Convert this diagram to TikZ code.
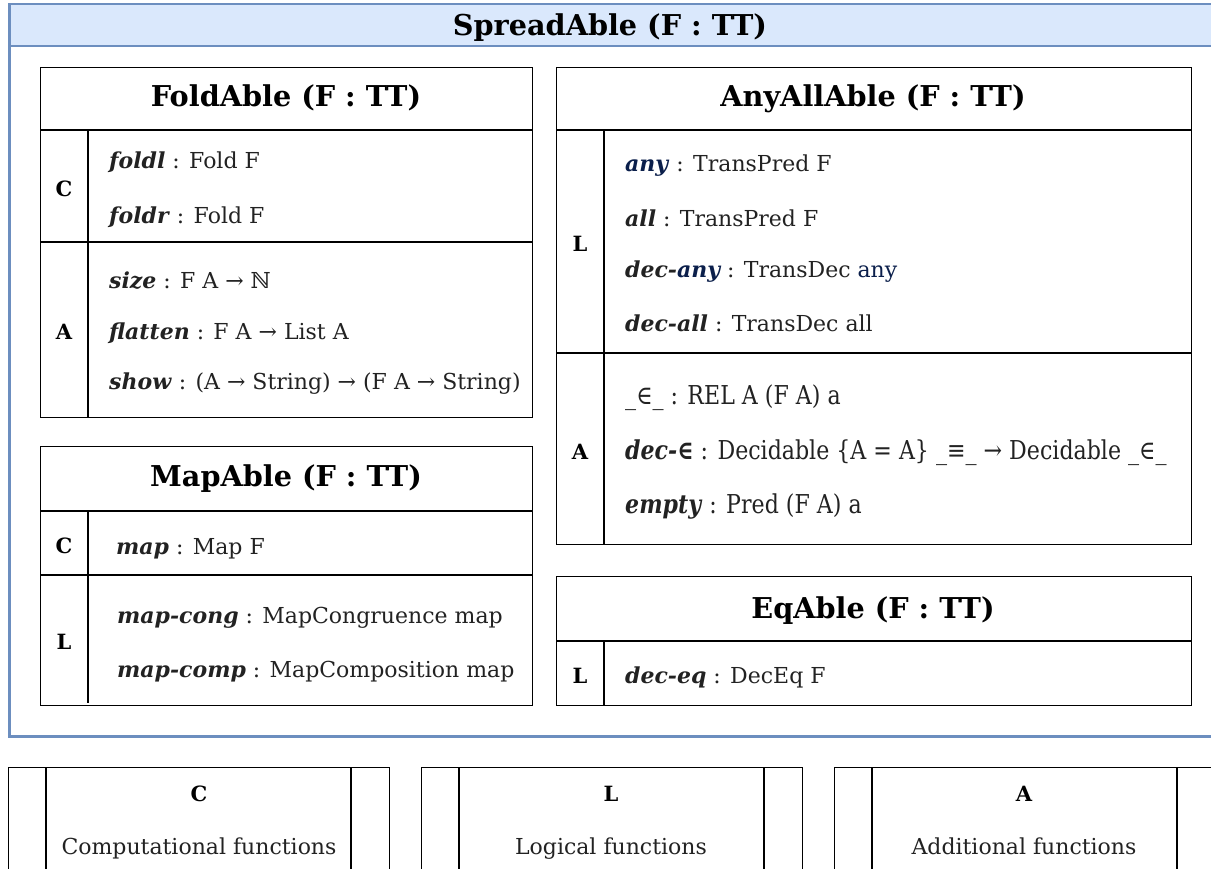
\documentclass[tikz,border=0pt]{standalone}
\usepackage{fontspec}
\setmainfont{DejaVu Serif}
\usepackage{graphicx}
\definecolor{txt}{HTML}{222222}
\definecolor{navy}{HTML}{0B1F4B}
\definecolor{bfill}{HTML}{DAE8FC}
\definecolor{bline}{HTML}{6C8EBF}
\newcommand{\fn}[1]{\textbf{\textit{#1}}}
\newcommand{\cond}[1]{{\fontsize{26}{30}\selectfont\scalebox{0.85}[1]{#1}}}
\begin{document}
\begin{tikzpicture}[x=1pt,y=-1pt,
  box/.style={draw=black,line width=1.3pt,anchor=north west,inner sep=0pt},
  sep/.style={draw=black,line width=1.3pt},
  ttl/.style={anchor=base,font=\fontsize{28.7}{32}\selectfont\bfseries,text=black,inner sep=0pt},
  lbl/.style={anchor=base,font=\fontsize{21}{24}\selectfont\bfseries,text=black,inner sep=0pt},
  ent/.style={anchor=base west,font=\fontsize{22}{26}\selectfont,text=txt,inner sep=0pt},
  lgd/.style={anchor=base,font=\fontsize{22}{26}\selectfont,text=txt,inner sep=0pt},
]
\useasboundingbox (0,0) rectangle (1211,869);
\begin{scope}
\clip (0,0) rectangle (1211,869);
% outer container
\node[draw=bline,fill=bfill,line width=2.5pt,anchor=north west,inner sep=0pt,minimum width=1204pt,minimum height=42pt] (spreadhead) at (8,3) {};
\node[draw=bline,line width=2.5pt,anchor=north west,inner sep=0pt,minimum width=1204pt,minimum height=732pt] (spread) at (8,3) {};
\node[ttl] (spreadt) at (610,36) {SpreadAble (F : TT)};

% FoldAble
\node[box,minimum width=492pt,minimum height=350pt] (fold) at (40,67) {};
\draw[sep] (40,130) -- (532,130);
\draw[sep] (40,242) -- (532,242);
\draw[sep] (88,130) -- (88,417);
\node[ttl] (foldt) at (286,107) {FoldAble (F : TT)};
\node[lbl] (foldc) at (64,197) {C};
\node[lbl] (folda) at (64,339) {A};
\node[ent] (foldl) at (109,169) {\fn{foldl} : Fold F};
\node[ent] (foldr) at (109,224) {\fn{foldr} : Fold F};
\node[ent] (size) at (109,289) {\fn{size} : F A → ℕ};
\node[ent] (flatten) at (109,339) {\fn{flatten} : F A → List A};
\node[ent] (show) at (109,389) {\fn{show} : (A → String) → (F A → String)};

% MapAble
\node[box,minimum width=492pt,minimum height=259pt] (mapb) at (40,446) {};
\draw[sep] (40,511) -- (532,511);
\draw[sep] (40,575) -- (532,575);
\draw[sep] (88,511) -- (88,703);
\node[ttl] (mapt) at (286,486) {MapAble (F : TT)};
\node[lbl] (mapc) at (64,553) {C};
\node[lbl] (mapl) at (64,649) {L};
\node[ent] (map) at (116,554) {\fn{map} : Map F};
\node[ent] (mapcong) at (117,623) {\fn{map-cong} : MapCongruence map};
\node[ent] (mapcomp) at (117,677) {\fn{map-comp} : MapComposition map};

% AnyAllAble
\node[box,minimum width=635pt,minimum height=477pt] (anyall) at (556,67) {};
\draw[sep] (556,130) -- (1191,130);
\draw[sep] (556,353) -- (1191,353);
\draw[sep] (604,130) -- (604,544);
\node[ttl] (anyallt) at (873,107) {AnyAllAble (F : TT)};
\node[lbl] (anyl) at (580,252) {L};
\node[lbl] (anya) at (580,459) {A};
\node[ent] (any) at (625,172) {\textcolor{navy}{\fn{any}} : TransPred F};
\node[ent] (all) at (625,227) {\fn{all} : TransPred F};
\node[ent] (decany) at (625,278) {\fn{dec-\textcolor{navy}{any}} : TransDec \textcolor{navy}{any}};
\node[ent] (decall) at (625,331) {\fn{dec-all} : TransDec all};
\node[ent] (elem) at (625,404) {\cond{\_∈\_ : REL A (F A) a}};
\node[ent] (decelem) at (625,459) {\cond{\fn{dec-∈} : Decidable \{A = A\} \_≡\_ → Decidable \_∈\_}};
\node[ent] (empty) at (625,513) {\cond{\fn{empty} : Pred (F A) a}};

% EqAble
\node[box,minimum width=635pt,minimum height=129pt] (eqb) at (556,576) {};
\draw[sep] (556,641) -- (1191,641);
\draw[sep] (604,641) -- (604,705);
\node[ttl] (eqt) at (873,618) {EqAble (F : TT)};
\node[lbl] (eql) at (580,683) {L};
\node[ent] (deceq) at (625,683) {\fn{dec-eq} : DecEq F};

% Legend
\node[box,minimum width=381pt,minimum height=140pt] (lg1) at (8,767) {};
\draw[sep] (46,767) -- (46,907);
\draw[sep] (351,767) -- (351,907);
\node[lbl] (lg1k) at (199,801) {C};
\node[lgd] (lg1t) at (199,854) {Computational functions};

\node[box,minimum width=381pt,minimum height=140pt] (lg2) at (421,767) {};
\draw[sep] (459,767) -- (459,907);
\draw[sep] (764,767) -- (764,907);
\node[lbl] (lg2k) at (611,801) {L};
\node[lgd] (lg2t) at (611,854) {Logical functions};

\node[box,minimum width=381pt,minimum height=140pt] (lg3) at (834,767) {};
\draw[sep] (872,767) -- (872,907);
\draw[sep] (1177,767) -- (1177,907);
\node[lbl] (lg3k) at (1024,801) {A};
\node[lgd] (lg3t) at (1024,854) {Additional functions};
\end{scope}
\end{tikzpicture}
\end{document}
